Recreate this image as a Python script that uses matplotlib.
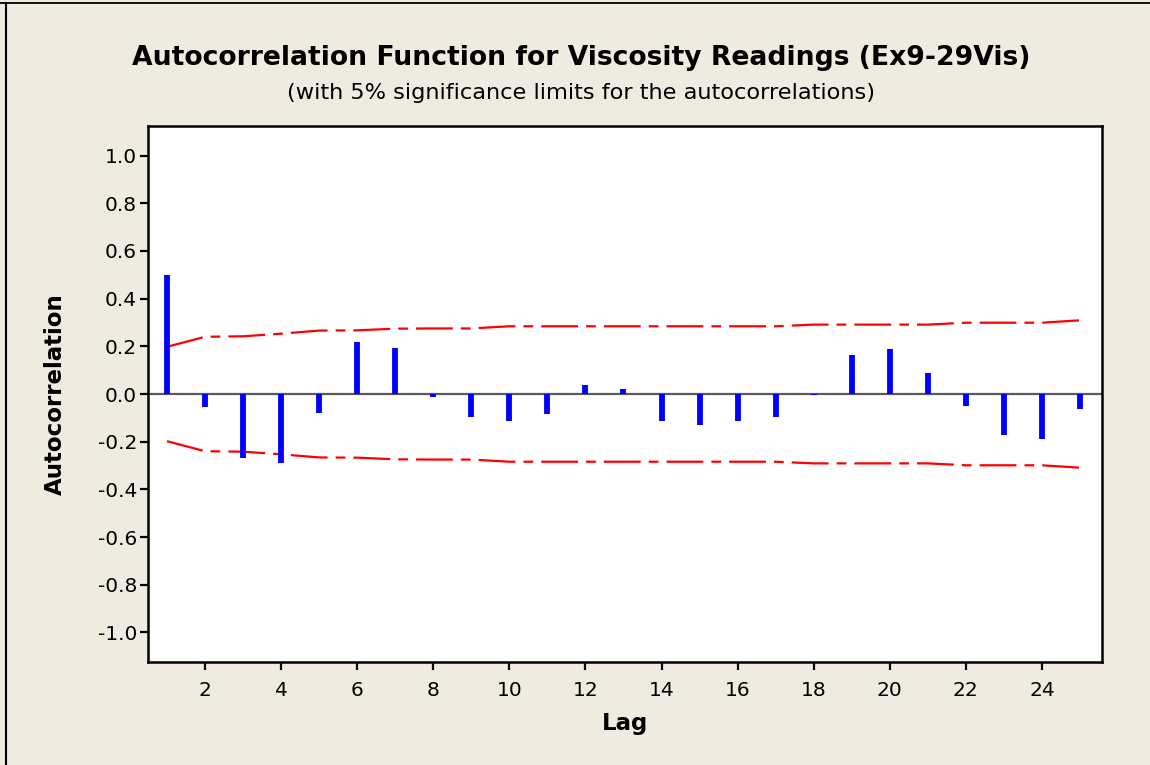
import matplotlib
matplotlib.use("Agg")
import matplotlib.pyplot as plt
from matplotlib.lines import Line2D

plt.rcParams['font.family'] = ['DejaVu Sans']
plt.rcParams['lines.scale_dashes'] = False

# Sample autocorrelations by lag
lags = list(range(1, 26))
acf = [0.50, -0.055, -0.27, -0.29, -0.08, 0.22, 0.195, -0.014, -0.097, -0.115,
       -0.082, 0.036, 0.020, -0.115, -0.132, -0.115, -0.097, -0.006, 0.162, 0.187,
       0.087, -0.049, -0.172, -0.190, -0.064]
# Upper 5% significance limit at each lag (lower limit is its mirror)
limit = [0.198, 0.240, 0.242, 0.253, 0.266, 0.267, 0.274, 0.275, 0.275, 0.284,
         0.284, 0.284, 0.284, 0.284, 0.284, 0.284, 0.284, 0.291, 0.291, 0.291,
         0.291, 0.299, 0.299, 0.299, 0.309]
x_ticks = list(range(2, 26, 2))
y_ticks = [1.0, 0.8, 0.6, 0.4, 0.2, 0.0, -0.2, -0.4, -0.6, -0.8, -1.0]

bg = '#EFEBE1'
fig = plt.figure(figsize=(11.5, 7.65), dpi=100, facecolor=bg)
W, H = 1150, 765
ax = fig.add_axes([148 / W, 1 - 662 / H, (1102 - 148) / W, (662 - 126) / H])
ax.set_facecolor('white')

ax.set_xlim(0.50, 25.58)
ax.set_ylim(-1.124, 1.124)

ax.axhline(0, color='#5a5a5a', lw=1.6, zorder=1)
ax.vlines(lags, 0, acf, colors='#0000FF', lw=4.2, zorder=3, capstyle='butt')

dash = (0, (26.5, 5.8, 7.0, 5.8))
ax.plot(lags, limit, color='#FF0000', lw=1.6, linestyle=dash, zorder=2)
ax.plot(lags, [-v for v in limit], color='#FF0000', lw=1.6, linestyle=dash, zorder=2)

ax.set_xticks(x_ticks)
ax.set_xticklabels([str(t) for t in x_ticks])
ax.set_yticks(y_ticks)
ax.set_yticklabels([f"{t:.1f}".replace('\u2212', '-') for t in y_ticks])
ax.tick_params(axis='both', direction='out', length=6, width=1.6, labelsize=14.5,
               colors='black', pad=2)
ax.tick_params(axis='x', pad=8)
for s in ax.spines.values():
    s.set_linewidth(1.8)
    s.set_color('black')

ax.set_xlabel('Lag', fontsize=16.5, fontweight='bold', labelpad=8)
ax.set_ylabel('Autocorrelation', fontsize=16.5, fontweight='bold', labelpad=22)

fig.text(0.505, 1 - 58 / H, 'Autocorrelation Function for Viscosity Readings (Ex9-29Vis)',
         ha='center', va='center', fontsize=19.2, fontweight='bold')
fig.text(0.505, 1 - 93 / H, '(with 5% significance limits for the autocorrelations)',
         ha='center', va='center', fontsize=16.2)

# Frame edges of the graph window
fig.add_artist(Line2D([0, 1], [1 - 2.5 / H, 1 - 2.5 / H], transform=fig.transFigure,
                      color='black', lw=1.3))
fig.add_artist(Line2D([6 / W, 6 / W], [0, 1 - 2.5 / H], transform=fig.transFigure,
                      color='black', lw=1.5))

fig.savefig('out.png', dpi=100, facecolor=bg)
